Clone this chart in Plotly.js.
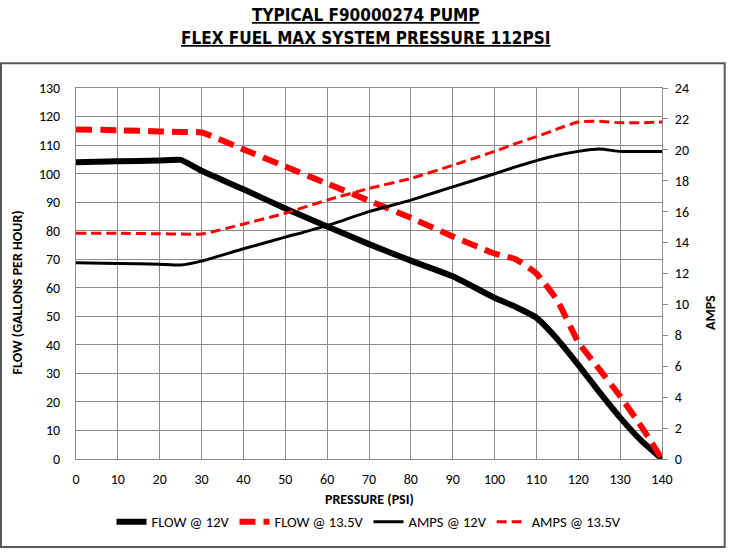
<!DOCTYPE html>
<html>
<head>
<meta charset="utf-8">
<script src="https://cdn.plot.ly/plotly-3.0.1.min.js"></script>
<style>
  html, body { margin: 0; padding: 0; background: #fff; }
  #chart { width: 730px; height: 552px; }
</style>
</head>
<body>
<div id="chart"></div>
<script>
// values
const pressure = [0, 10, 20, 25, 30, 40, 50, 60, 70, 80, 90, 100, 105, 110, 115, 120, 125, 130, 135, 140];
const flow12 = [104, 104.3, 104.6, 104.8, 101, 94.5, 87.8, 81.5, 75.3, 69.5, 64, 56.5, 53.3, 49.5, 42, 33, 23.5, 14.5, 6.5, 0];
const flow135 = [115.5, 115.2, 114.8, 114.6, 114.4, 108.5, 102.5, 96.5, 90.5, 84.5, 78, 72, 70, 65, 55.5, 41, 31.5, 22, 11.5, 0];
const amps12 = [12.7, 12.65, 12.6, 12.55, 12.8, 13.6, 14.35, 15.1, 16, 16.75, 17.6, 18.45, 18.9, 19.3, 19.65, 19.9, 20.05, 19.9, 19.9, 19.9];
const amps135 = [14.6, 14.6, 14.57, 14.55, 14.55, 15.2, 15.9, 16.75, 17.5, 18.15, 19, 19.9, 20.4, 20.85, 21.35, 21.8, 21.85, 21.75, 21.75, 21.8];

const seriesNames = ['FLOW @ 12V', 'FLOW @ 13.5V', 'AMPS @ 12V', 'AMPS @ 13.5V'];
const titleLines = ['TYPICAL F90000274 PUMP', 'FLEX FUEL MAX SYSTEM PRESSURE 112PSI'];

const FONT = 'Carlito, Lato, "Liberation Sans", sans-serif';
const TITLE_FONT = '"Liberation Sans Narrow", "Arial Narrow", "DejaVu Sans Condensed", sans-serif';
const GRID = '#8c8c8c';

const data = [
  {
    x: pressure, y: flow12, name: seriesNames[0], type: 'scatter', mode: 'lines',
    line: { color: '#000000', width: 6, shape: 'spline', smoothing: 0.5 },
  },
  {
    x: pressure, y: flow135, name: seriesNames[1], type: 'scatter', mode: 'lines',
    line: { color: '#ff0000', width: 6, dash: '16px,8px', shape: 'spline', smoothing: 0.5 },
  },
  {
    x: pressure, y: amps12, name: seriesNames[2], yaxis: 'y2', type: 'scatter', mode: 'lines',
    line: { color: '#000000', width: 3, shape: 'spline', smoothing: 0.5 },
  },
  {
    x: pressure, y: amps135, name: seriesNames[3], yaxis: 'y2', type: 'scatter', mode: 'lines',
    line: { color: '#ff0000', width: 3, dash: '10px,5px', shape: 'spline', smoothing: 0.5 },
  },
];

const u = s => '<span style="text-decoration:underline"><b>' + s + '</b></span>';

const layout = {
  width: 730,
  height: 552,
  margin: { l: 76, r: 68, t: 88, b: 93 },
  paper_bgcolor: '#ffffff',
  plot_bgcolor: '#ffffff',
  font: { family: FONT, size: 14, color: '#000' },
  showlegend: true,
  legend: {
    orientation: 'h',
    x: 0.5, xanchor: 'center',
    y: -0.126, yanchor: 'top',
    font: { family: FONT, size: 14.5 },
    itemwidth: 30,
    traceorder: 'normal',
  },
  xaxis: {
    range: [0, 140],
    dtick: 10,
    tick0: 0,
    showgrid: true,
    gridcolor: GRID,
    gridwidth: 1,
    zeroline: false,
    showline: true,
    linecolor: GRID,
    mirror: true,
    ticks: '',
    ticklabelstandoff: 7,
    tickfont: { family: FONT, size: 14 },
    fixedrange: true,
  },
  yaxis: {
    range: [0, 130],
    dtick: 10,
    tick0: 0,
    showgrid: true,
    gridcolor: GRID,
    zeroline: false,
    showline: true,
    linecolor: GRID,
    mirror: true,
    ticks: '',
    ticklabelstandoff: 12,
    tickfont: { family: FONT, size: 14 },
  },
  yaxis2: {
    range: [0, 24],
    dtick: 2,
    tick0: 0,
    overlaying: 'y',
    side: 'right',
    showgrid: false,
    zeroline: false,
    showline: false,
    ticks: 'outside',
    ticklen: 5,
    tickcolor: GRID,
    ticklabelstandoff: 4,
    tickfont: { family: FONT, size: 14 },
  },
  annotations: [
    {
      text: u(titleLines[0]), xref: 'paper', yref: 'paper',
      x: 0.494, y: 1.197, xanchor: 'center', yanchor: 'middle', showarrow: false,
      font: { family: TITLE_FONT, size: 17 },
    },
    {
      text: u(titleLines[1]), xref: 'paper', yref: 'paper',
      x: 0.494, y: 1.135, xanchor: 'center', yanchor: 'middle', showarrow: false,
      font: { family: TITLE_FONT, size: 17 },
    },
    {
      text: '<b>PRESSURE (PSI)</b>', xref: 'paper', yref: 'paper',
      x: 0.5, y: -0.11, xanchor: 'center', yanchor: 'middle', showarrow: false,
      font: { family: FONT, size: 14 },
    },
    {
      text: '<b>FLOW (GALLONS PER HOUR)</b>', xref: 'paper', yref: 'paper',
      x: -0.1, y: 0.45, xanchor: 'center', yanchor: 'middle', showarrow: false,
      textangle: -90, font: { family: FONT, size: 14 },
    },
    {
      text: '<b>AMPS</b>', xref: 'paper', yref: 'paper',
      x: 1.083, y: 0.395, xanchor: 'center', yanchor: 'middle', showarrow: false,
      textangle: -90, font: { family: FONT, size: 14 },
    },
  ],
  shapes: [
    {
      type: 'rect', xref: 'paper', yref: 'paper',
      x0: -0.128, x1: 1.107, y0: -0.237, y1: 1.067,
      line: { color: '#595959', width: 2 },
      layer: 'above',
    },
  ],
};

Plotly.newPlot('chart', data, layout, { displayModeBar: false, staticPlot: true });
</script>
</body>
</html>
